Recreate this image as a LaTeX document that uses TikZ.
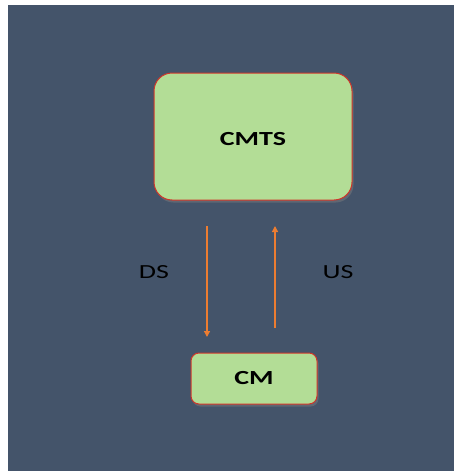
\documentclass[tikz,border=0pt]{standalone}
\usepackage{fontspec}
\usepackage{graphicx}
\setmainfont{Carlito}
\usetikzlibrary{shadows,arrows.meta}
\definecolor{slate}{HTML}{44546A}
\definecolor{boxgreen}{HTML}{B3DD96}
\definecolor{boxedge}{HTML}{D0352A}
\definecolor{flow}{HTML}{ED7D31}
\newcommand{\widetext}[1]{\scalebox{1.4}[1]{#1}}
\tikzset{
  unit/.style={draw=boxedge, line width=1pt, fill=boxgreen, rounded corners=18pt,
    font=\bfseries\fontsize{20}{24}\selectfont, text=black,
    drop shadow={shadow xshift=1.5pt, shadow yshift=-2.5pt, opacity=0.45}},
  link/.style={draw=flow, line width=1.3pt, -{Triangle[length=6pt,width=6pt]}},
  tag/.style={font=\fontsize{20}{24}\selectfont, text=black}
}
\begin{document}
\begin{tikzpicture}[x=1pt,y=-1pt]
  \useasboundingbox (0,0) rectangle (454,471);
  \fill[white] (0,0) rectangle (454,471);
  \fill[slate] (8,5) rectangle (454,471);
  % head end and cable modem
  \node[unit, minimum width=198pt, minimum height=127pt] (cmts) at (253,136.5) {};
  \node[font=\bfseries\fontsize{20}{24}\selectfont] (cmtslabel) at (253,139) {\widetext{CMTS}};
  \node[unit, rounded corners=8pt, minimum width=126pt, minimum height=51pt] (cm) at (254,378.5) {\widetext{CM}};
  % downstream and upstream flows
  \coordinate (dsA) at (207,226);
  \coordinate (dsB) at (207,337);
  \coordinate (usA) at (275,328);
  \coordinate (usB) at (275,226);
  \draw[link] (dsA) -- (dsB);
  \draw[link] (usA) -- (usB);
  \node[tag] (ds) at (154,272) {\widetext{DS}};
  \node[tag] (us) at (338,272) {\widetext{US}};
\end{tikzpicture}
\end{document}
